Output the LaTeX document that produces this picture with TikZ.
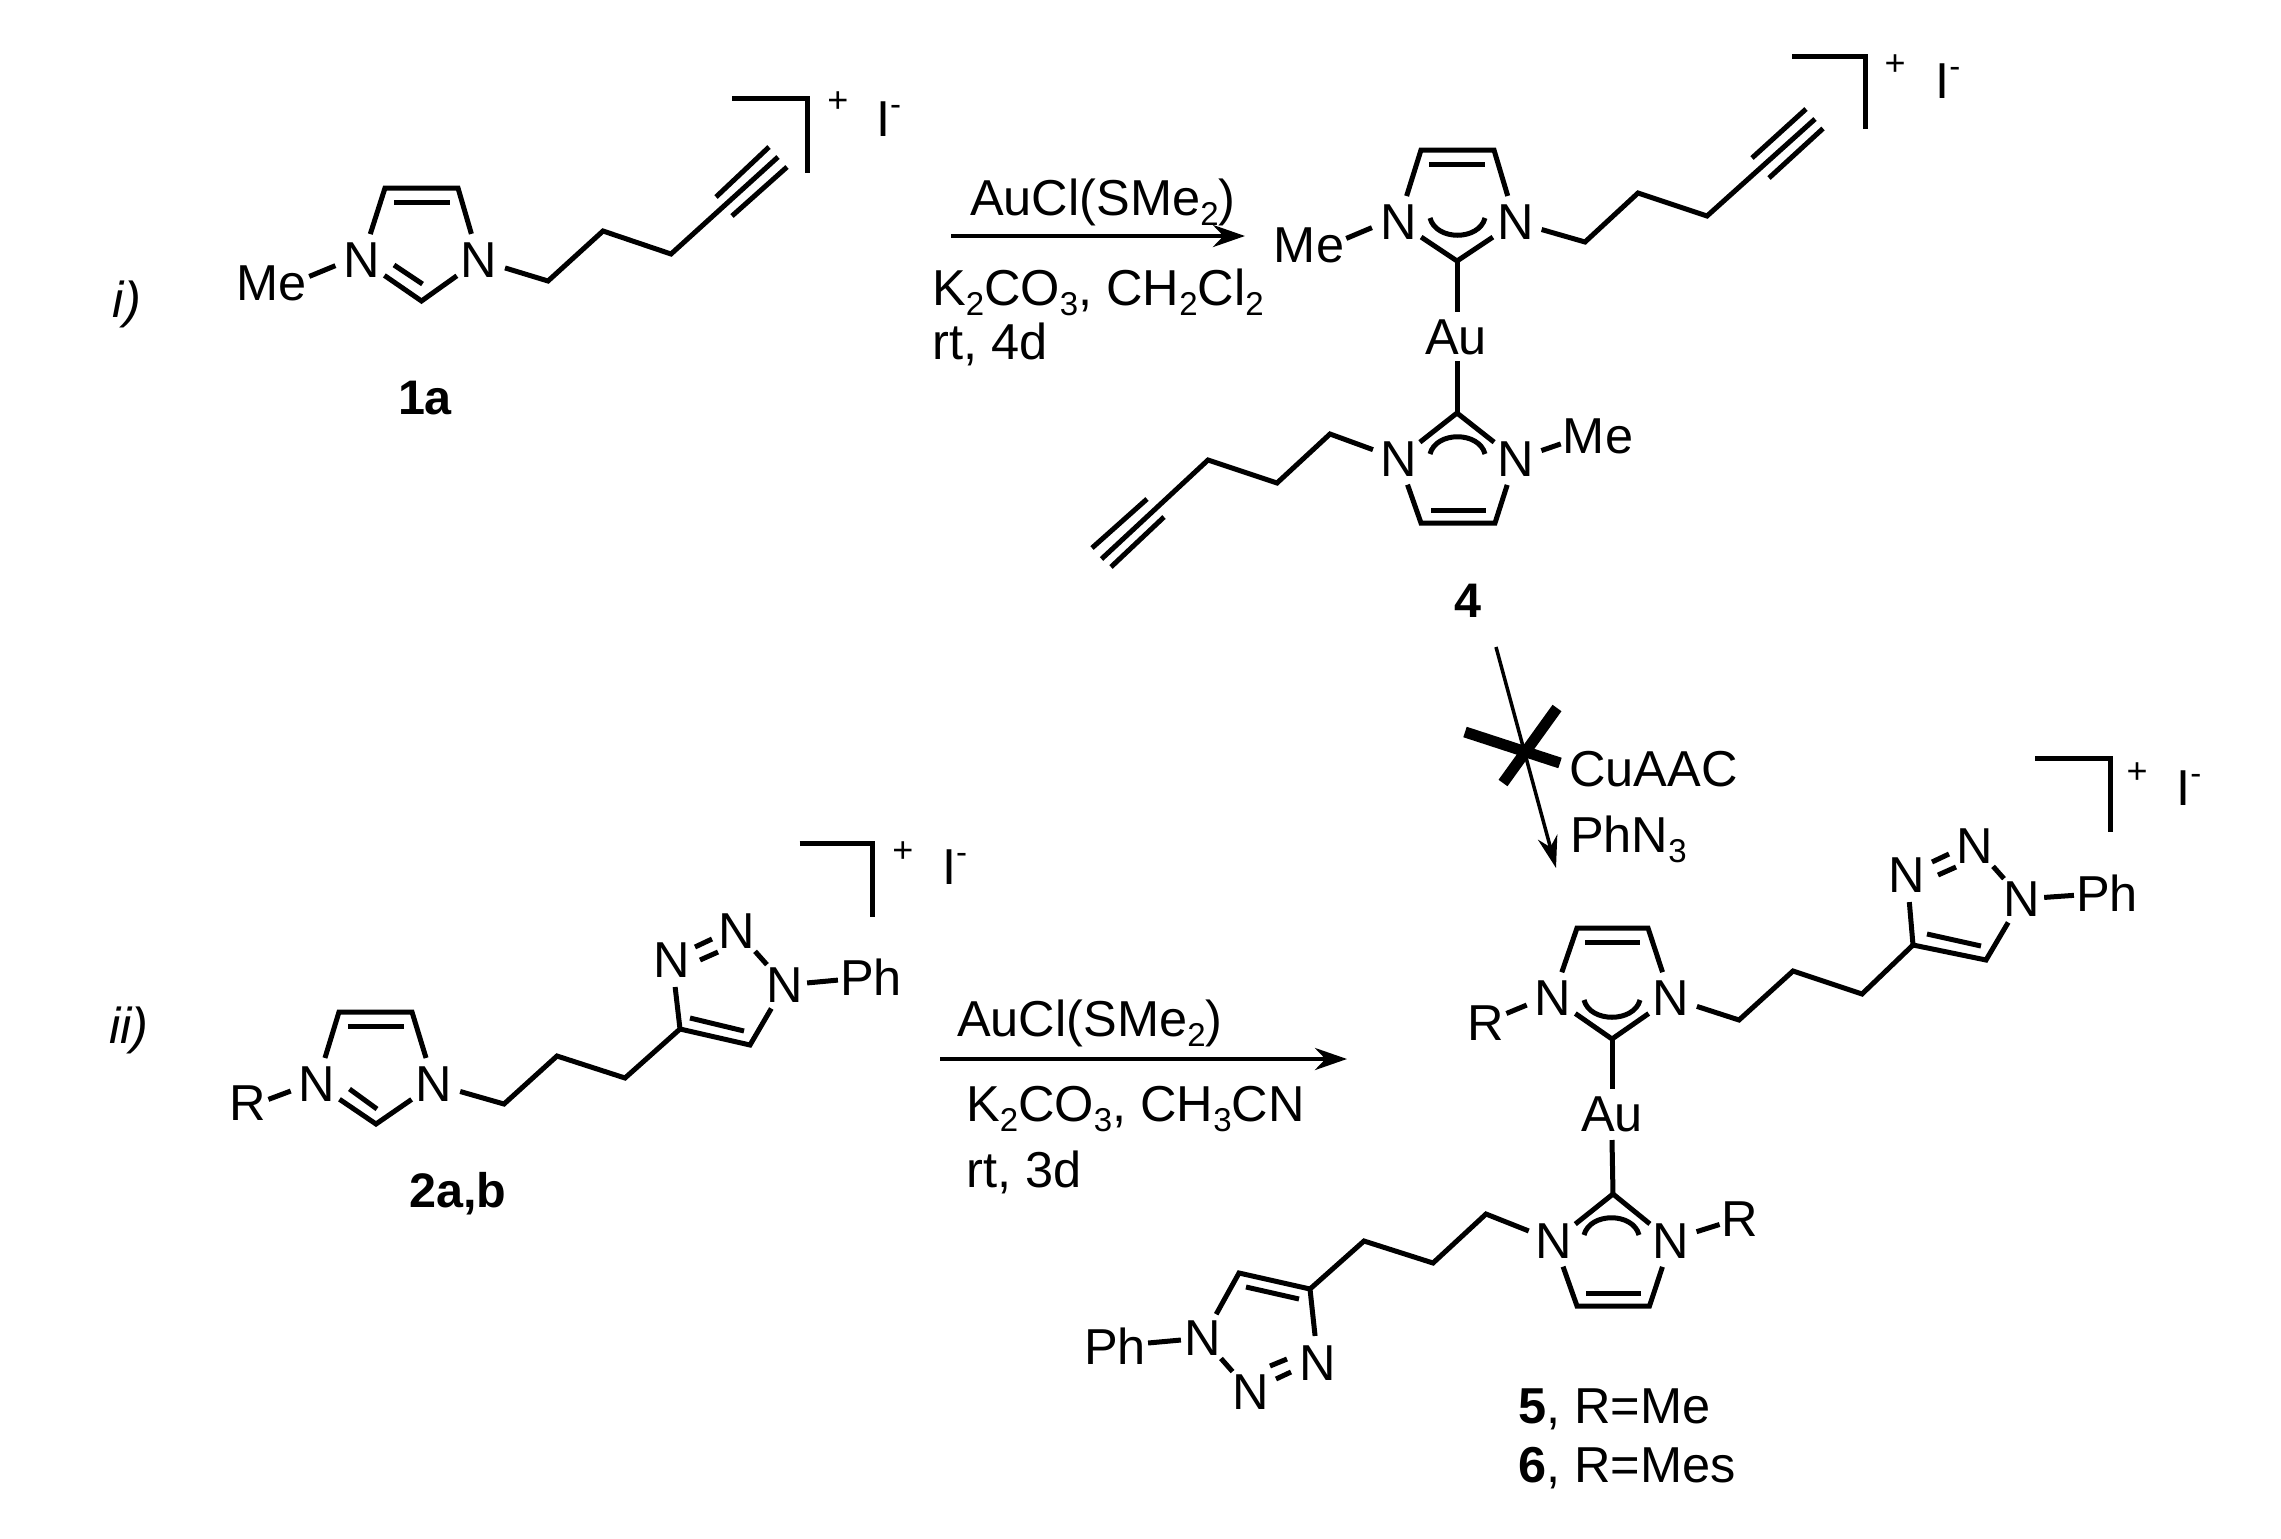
\documentclass[tikz,border=0pt]{standalone}
\usepackage{fontspec}
\setmainfont{Liberation Sans}
\usetikzlibrary{arrows.meta}
\newcommand\sbs[1]{\raisebox{-10pt}{\fontsize{33}{33}\selectfont #1}}
\newcommand\spr[1]{\raisebox{21pt}{\fontsize{33}{33}\selectfont #1}}
\tikzset{
  chem/.style={x=1pt,y=-1pt,font=\fontsize{50.5}{60}\selectfont},
  bond/.style={line width=5pt,line join=miter},
  atom/.style={circle,inner sep=0pt,minimum size=54pt},
  group/.style={rectangle,inner sep=2pt},
  lbl/.style={anchor=base west,inner sep=0pt},
  clbl/.style={anchor=base,inner sep=0pt,font=\fontsize{48.5}{60}\selectfont\bfseries},
  chg/.style={inner sep=0pt,font=\fontsize{36}{36}\selectfont},
  rxn/.style={line width=4.5pt,-{Stealth[length=32pt,width=22pt]}},
  thinarrow/.style={line width=3.5pt,-{Stealth[length=32pt,width=20pt]}},
  crossbar/.style={line width=11pt},
}
\begin{document}
\begin{tikzpicture}[chem]
\useasboundingbox (0,0) rectangle (2281,1539);
\fill[white] (0,0) rectangle (2281,1539);

% labels i), ii)
\node[inner sep=0pt,font=\fontsize{50.5}{60}\selectfont\itshape] (li) at (127,304) {i)};
\node[inner sep=0pt,font=\fontsize{50.5}{60}\selectfont\itshape] (lii) at (129,1030) {ii)};

% ---------- 1a ----------
\node[group] (aMe) at (272,283) {Me};
\node[atom] (aN1) at (362,260) {N};
\node[atom] (aN3) at (479,260) {N};
\coordinate (a4) at (385,188);
\coordinate (a5) at (458,188);
\coordinate (a2) at (421.5,301);
\coordinate (ai1) at (394,202);
\coordinate (ai2) at (450,202);
\coordinate (ai3) at (394,265);
\coordinate (ai4) at (422.5,284);
\coordinate (ac1) at (548,281);
\coordinate (ac2) at (603,231);
\coordinate (ac3) at (671,254);
\coordinate (at1) at (778,157);
\coordinate (at2) at (716,197);
\coordinate (at3) at (769,147);
\coordinate (at4) at (732,216);
\coordinate (at5) at (787,167);
\coordinate (ab1) at (732,98);
\coordinate (ab2) at (807,98);
\coordinate (ab3) at (807,173);
\draw[bond] (aMe.10) -- (aN1.192);
\draw[bond] (aN1) -- (a4) -- (a5) -- (aN3);
\draw[bond] (aN1) -- (a2) -- (aN3);
\draw[bond] (ai1) -- (ai2);
\draw[bond] (ai3) -- (ai4);
\draw[bond] (aN3) -- (ac1) -- (ac2) -- (ac3) -- (at1);
\draw[bond] (at2) -- (at3);
\draw[bond] (at4) -- (at5);
\draw[bond] (ab1) -- (ab2) -- (ab3);
\node[chg] (apl) at (838,102) {+};
\node[lbl] (aI) at (876,136) {I\spr{-}};
\node[clbl] (l1a) at (425,414) {1a};

% ---------- arrow 1 ----------
\coordinate (r1s) at (951,236);
\coordinate (r1e) at (1245,236);
\draw[rxn] (r1s) -- (r1e);
\node[lbl] (r1t) at (970,215) {AuCl(SMe\sbs{2})};
\node[lbl] (r1b) at (932,305) {K\sbs{2}CO\sbs{3}, CH\sbs{2}Cl\sbs{2}};
\node[lbl] (r1c) at (932,359) {rt, 4d};

% ---------- 4 ----------
\node[group] (bMe) at (1309,245) {Me};
\node[atom] (bN1) at (1398.5,222) {N};
\node[atom] (bN3) at (1515.5,222) {N};
\coordinate (b4) at (1421,150);
\coordinate (b5) at (1494,150);
\coordinate (b2) at (1457,261);
\coordinate (bi1) at (1429,164);
\coordinate (bi2) at (1485,164);
\coordinate (bk1) at (1430,218);
\coordinate (bk2) at (1485,218);
\coordinate (bk3) at (1436,241);
\coordinate (bk4) at (1479,241);
\node[inner sep=0pt] (bAu) at (1456,337) {Au};
\coordinate (bAe) at (1457,312);
\coordinate (bAf) at (1457,361);
\node[group] (cMe) at (1598,436) {Me};
\node[atom] (cN1) at (1398.5,459) {N};
\node[atom] (cN3) at (1515.5,459) {N};
\coordinate (c2) at (1457,413);
\coordinate (c4) at (1421,523);
\coordinate (c5) at (1495,523);
\coordinate (ci1) at (1431,510);
\coordinate (ci2) at (1486,510);
\coordinate (ck1) at (1430,454);
\coordinate (ck2) at (1485,454);
\coordinate (ck3) at (1436,431);
\coordinate (ck4) at (1479,431);
\coordinate (bc1) at (1585,242);
\coordinate (bc2) at (1638,193);
\coordinate (bc3) at (1707,216);
\coordinate (bt1) at (1815,119);
\coordinate (bt2) at (1752,158);
\coordinate (bt3) at (1806,109);
\coordinate (bt4) at (1769,178);
\coordinate (bt5) at (1823,128.5);
\coordinate (bb1) at (1792,56);
\coordinate (bb2) at (1865,56);
\coordinate (bb3) at (1865,128.5);
\coordinate (cc1) at (1330,434);
\coordinate (cc2) at (1277,483);
\coordinate (cc3) at (1208,460);
\coordinate (ct1) at (1101.5,559);
\coordinate (ct2) at (1147,499);
\coordinate (ct3) at (1092,548);
\coordinate (ct4) at (1164,517);
\coordinate (ct5) at (1111,567);
\draw[bond] (bMe.10) -- (bN1.192);
\draw[bond] (bN1) -- (b4) -- (b5) -- (bN3);
\draw[bond] (bN1) -- (b2) -- (bN3);
\draw[bond] (bi1) -- (bi2);
\draw[bond] (bk1) .. controls (bk3) and (bk4) .. (bk2);
\draw[bond] (b2) -- (bAe);
\draw[bond] (bAf) -- (c2);
\draw[bond] (cN1) -- (c2) -- (cN3);
\draw[bond] (cN1) -- (c4) -- (c5) -- (cN3);
\draw[bond] (ci1) -- (ci2);
\draw[bond] (ck1) .. controls (ck3) and (ck4) .. (ck2);
\draw[bond] (cN3.18) -- (cMe.192);
\draw[bond] (bN3) -- (bc1) -- (bc2) -- (bc3) -- (bt1);
\draw[bond] (bt2) -- (bt3);
\draw[bond] (bt4) -- (bt5);
\draw[bond] (bb1) -- (bb2) -- (bb3);
\draw[bond] (cN1) -- (cc1) -- (cc2) -- (cc3) -- (ct1);
\draw[bond] (ct2) -- (ct3);
\draw[bond] (ct4) -- (ct5);
\node[chg] (bpl) at (1895,65) {+};
\node[lbl] (bI) at (1935,98) {I\spr{-}};
\node[clbl] (l4) at (1468,617) {4};

% ---------- blocked arrow ----------
\coordinate (r3s) at (1496,647);
\coordinate (r3e) at (1556,868);
\draw[thinarrow] (r3s) -- (r3e);
\coordinate (x1) at (1465,732);
\coordinate (x2) at (1560,763);
\coordinate (x3) at (1557,708);
\coordinate (x4) at (1503,783);
\draw[crossbar] (x1) -- (x2);
\draw[crossbar] (x3) -- (x4);
\node[lbl] (r3t) at (1569,786) {CuAAC};
\node[lbl] (r3b) at (1570,852) {PhN\sbs{3}};

% ---------- 2a,b ----------
\node[group] (dR) at (248,1103) {R};
\node[atom] (dN1) at (317,1084) {N};
\node[atom] (dN3) at (434,1084) {N};
\coordinate (d4) at (339,1012);
\coordinate (d5) at (412,1012);
\coordinate (d2) at (376,1124);
\coordinate (di1) at (348,1026);
\coordinate (di2) at (404,1026);
\coordinate (di3) at (349.5,1089);
\coordinate (di4) at (377,1109);
\coordinate (dc1) at (504,1104);
\coordinate (dc2) at (557,1056);
\coordinate (dc3) at (625,1078);
\coordinate (dt4) at (680,1029);
\coordinate (dt5) at (750,1045);
\coordinate (dj1) at (690,1018);
\coordinate (dj2) at (744,1031);
\node[atom] (dTN3) at (672,960) {N};
\node[atom] (dTN2) at (737,931) {N};
\node[atom] (dTN1) at (785,985) {N};
\coordinate (dn1) at (695,947);
\coordinate (dn2) at (712,939);
\coordinate (dn3) at (700,960);
\coordinate (dn4) at (718,952);
\node[group] (dPh) at (871,977) {Ph};
\coordinate (db1) at (799.5,843);
\coordinate (db2) at (872.5,843);
\coordinate (db3) at (872.5,917);
\draw[bond] (dR.10) -- (dN1.195);
\draw[bond] (dN1) -- (d4) -- (d5) -- (dN3);
\draw[bond] (dN1) -- (d2) -- (dN3);
\draw[bond] (di1) -- (di2);
\draw[bond] (di3) -- (di4);
\draw[bond] (dN3) -- (dc1) -- (dc2) -- (dc3) -- (dt4);
\draw[bond] (dTN3) -- (dt4) -- (dt5) -- (dTN1);
\draw[bond] (dj1) -- (dj2);
\draw[bond] (dn1) -- (dn2);
\draw[bond] (dn3) -- (dn4);
\draw[bond] (dTN2) -- (dTN1);
\draw[bond,shorten <=-5pt] (dTN1) -- (dPh);
\draw[bond] (db1) -- (db2) -- (db3);
\node[chg] (dpl) at (903,852) {+};
\node[lbl] (dI) at (942,884) {I\spr{-}};
\node[clbl] (l2) at (458,1207) {2a,b};

% ---------- arrow 2 ----------
\coordinate (r2s) at (940,1059);
\coordinate (r2e) at (1347,1059);
\draw[rxn] (r2s) -- (r2e);
\node[lbl] (r2t) at (957,1036) {AuCl(SMe\sbs{2})};
\node[lbl] (r2b) at (966,1121) {K\sbs{2}CO\sbs{3}, CH\sbs{3}CN};
\node[lbl] (r2c) at (966,1187) {rt, 3d};

% ---------- 5/6 ----------
\node[group] (eR) at (1486,1023) {R};
\node[atom] (eN1) at (1553,998) {N};
\node[atom] (eN3) at (1671,998) {N};
\coordinate (e4) at (1577,928);
\coordinate (e5) at (1648,928);
\coordinate (e2) at (1612,1039);
\coordinate (ei1) at (1585,942);
\coordinate (ei2) at (1640,942);
\coordinate (ek1) at (1584,1000);
\coordinate (ek2) at (1640,1000);
\coordinate (ek3) at (1590,1023);
\coordinate (ek4) at (1634,1023);
\node[inner sep=0pt] (eAu) at (1612,1114) {Au};
\coordinate (eAe) at (1612,1089);
\coordinate (eAf) at (1612,1140);
\coordinate (ec1) at (1739,1020);
\coordinate (ec2) at (1793,971);
\coordinate (ec3) at (1862,994);
\coordinate (et4) at (1913,945);
\coordinate (et5) at (1986,960);
\coordinate (ej1) at (1927,934);
\coordinate (ej2) at (1981,946);
\node[atom] (eTN3) at (1907,875) {N};
\node[atom] (eTN2) at (1975,846) {N};
\node[atom] (eTN1) at (2022,899) {N};
\coordinate (en1) at (1932,862);
\coordinate (en2) at (1949,854);
\coordinate (en3) at (1938,875);
\coordinate (en4) at (1956,867);
\node[group] (ePh) at (2107,893) {Ph};
\coordinate (eb1) at (2035,758);
\coordinate (eb2) at (2110,758);
\coordinate (eb3) at (2110,832);
\draw[bond] (eR.25) -- (eN1.195);
\draw[bond] (eN1) -- (e4) -- (e5) -- (eN3);
\draw[bond] (eN1) -- (e2) -- (eN3);
\draw[bond] (ei1) -- (ei2);
\draw[bond] (ek1) .. controls (ek3) and (ek4) .. (ek2);
\draw[bond] (e2) -- (eAe);
\draw[bond] (eN3) -- (ec1) -- (ec2) -- (ec3) -- (et4);
\draw[bond] (eTN3) -- (et4) -- (et5) -- (eTN1);
\draw[bond] (ej1) -- (ej2);
\draw[bond] (en1) -- (en2);
\draw[bond] (en3) -- (en4);
\draw[bond] (eTN2) -- (eTN1);
\draw[bond,shorten <=-5pt] (eTN1) -- (ePh);
\draw[bond] (eb1) -- (eb2) -- (eb3);
\node[chg] (epl) at (2137,773) {+};
\node[lbl] (eI) at (2176,805) {I\spr{-}};

\node[group] (fR) at (1740,1219) {R};
\node[atom] (fN1) at (1554,1241) {N};
\node[atom] (fN3) at (1671,1241) {N};
\coordinate (f2) at (1613,1194);
\coordinate (f4) at (1577,1306);
\coordinate (f5) at (1649.5,1306);
\coordinate (fi1) at (1586,1293);
\coordinate (fi2) at (1641,1293);
\coordinate (fk1) at (1584,1235);
\coordinate (fk2) at (1639,1235);
\coordinate (fk3) at (1590,1212);
\coordinate (fk4) at (1633,1212);
\coordinate (fc1) at (1486,1214);
\coordinate (fc2) at (1433,1263);
\coordinate (fc3) at (1364,1241);
\coordinate (ft4) at (1310,1289);
\coordinate (ft5) at (1239,1273);
\coordinate (fj1) at (1246,1287);
\coordinate (fj2) at (1299,1299);
\node[atom] (fTN1) at (1203,1338) {N};
\node[atom] (fTN2) at (1250.5,1392) {N};
\node[atom] (fTN3) at (1318,1363) {N};
\coordinate (fn1) at (1270,1366);
\coordinate (fn2) at (1287,1359);
\coordinate (fn3) at (1276,1379);
\coordinate (fn4) at (1291,1372);
\node[group] (fPh) at (1115,1346) {Ph};
\draw[bond] (eAf) -- (f2);
\draw[bond] (fN1) -- (f2) -- (fN3);
\draw[bond] (fN1) -- (f4) -- (f5) -- (fN3);
\draw[bond] (fi1) -- (fi2);
\draw[bond] (fk1) .. controls (fk3) and (fk4) .. (fk2);
\draw[bond] (fN3.20) -- (fR.195);
\draw[bond] (fN1) -- (fc1) -- (fc2) -- (fc3) -- (ft4);
\draw[bond] (fTN3) -- (ft4) -- (ft5) -- (fTN1);
\draw[bond] (fj1) -- (fj2);
\draw[bond] (fn1) -- (fn2);
\draw[bond] (fn3) -- (fn4);
\draw[bond] (fTN1) -- (fTN2);
\draw[bond,shorten >=-5pt] (fPh) -- (fTN1);
\node[lbl] (l5) at (1518,1423) {\textbf{5}, R=Me};
\node[lbl] (l6) at (1518,1482) {\textbf{6}, R=Mes};
\end{tikzpicture}
\end{document}
